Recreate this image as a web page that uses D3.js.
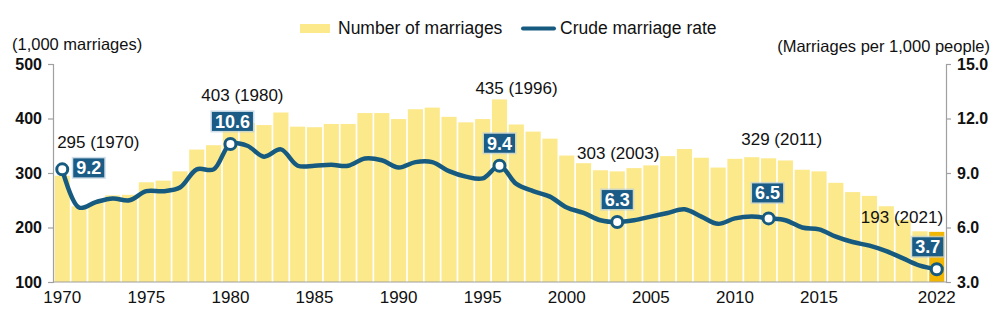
<!DOCTYPE html>
<html>
<head>
<meta charset="utf-8">
<script src="https://cdn.jsdelivr.net/npm/d3@7"></script>
<style>
  body { margin: 0; background: #fff; }
  svg { display: block; font-family: "Liberation Sans", Arial, sans-serif; }
</style>
</head>
<body>
<svg id="chart" width="997" height="323"></svg>
<script>
// ---------- DATA ----------
const years = [1970,1971,1972,1973,1974,1975,1976,1977,1978,1979,
  1980,1981,1982,1983,1984,1985,1986,1987,1988,1989,
  1990,1991,1992,1993,1994,1995,1996,1997,1998,1999,
  2000,2001,2002,2003,2004,2005,2006,2007,2008,2009,
  2010,2011,2012,2013,2014,2015,2016,2017,2018,2019,
  2020,2021,2022];
// Number of marriages (1,000)
const marriages = [295,239,245,259,260,283,286,303,343,351,
  403,392,388,411,385,384,390,390,410,410,
  399,417,420,403,393,399,435,389,376,363,
  332,318,305,303,309,314,331,344,328,310,
  326,329,327,323,306,303,282,265,258,239,
  214,193,192];
// Crude marriage rate (per 1,000 people)
const rates = [9.2,7.1,7.4,7.6,7.5,8.0,8.0,8.2,9.2,9.2,
  10.6,10.5,9.9,10.3,9.4,9.4,9.45,9.4,9.8,9.7,
  9.3,9.6,9.6,9.1,8.8,8.7,9.4,8.4,8.0,7.7,
  7.1,6.8,6.4,6.3,6.4,6.6,6.8,7.0,6.6,6.2,
  6.5,6.6,6.5,6.4,6.0,5.9,5.5,5.2,5.0,4.7,
  4.3,3.9,3.7];
const highlightYear = 2022;
const leftTicks = [100,200,300,400,500];
const rightTicks = [3.0,6.0,9.0,12.0,15.0];
const xTickYears = [1970,1975,1980,1985,1990,1995,2000,2005,2010,2015,2022];
const rateMarkerYears = [1970,1980,1996,2003,2012,2022];
const rateMarkerLabels = ["9.2","10.6","9.4","6.3","6.5","3.7"];
const barNoteYears = [1970,1980,1996,2003,2011,2021];
const barNoteTexts = ["295 (1970)","403 (1980)","435 (1996)","303 (2003)","329 (2011)","193 (2021)"];
const legendLabels = ["Number of marriages","Crude marriage rate"];
const leftTitle = "(1,000 marriages)";
const rightTitle = "(Marriages per 1,000 people)";

// ---------- LAYOUT ----------
const svg = d3.select("#chart");
const plotLeft = 53, plotRight = 946, plotTop = 64, plotBottom = 282;
const C = { bar: "#fce98c", barHi: "#f2b705", line: "#175a80", box: "#1b5c86", axis: "#a0a0a0", text: "#111" };

const x = d3.scaleBand().domain(years).range([plotLeft, plotRight]).padding(0.1);
const yL = d3.scaleLinear().domain([100, 500]).range([plotBottom, plotTop]);
const yR = d3.scaleLinear().domain([3, 15]).range([plotBottom, plotTop]);
const cx = yr => x(yr) + x.bandwidth() / 2;

// bars
svg.append("g").selectAll("rect").data(years).join("rect")
  .attr("x", d => x(d))
  .attr("width", x.bandwidth())
  .attr("y", (d, i) => yL(marriages[i]))
  .attr("height", (d, i) => yL(100) - yL(marriages[i]))
  .attr("fill", d => d === highlightYear ? C.barHi : C.bar);

// axes
const gL = svg.append("g").attr("transform", `translate(${plotLeft},0)`)
  .call(d3.axisLeft(yL).tickValues(leftTicks).tickSize(5).tickPadding(6).tickFormat(d3.format("d")));
const gR = svg.append("g").attr("transform", `translate(${plotRight},0)`)
  .call(d3.axisRight(yR).tickValues(rightTicks).tickSize(5).tickPadding(6).tickFormat(d3.format(".1f")));
[gL, gR].forEach(g => {
  g.select(".domain").attr("stroke", C.axis).attr("stroke-width", 1.2);
  g.selectAll(".tick line").attr("stroke", C.axis).attr("stroke-width", 1.2);
  g.selectAll(".tick text").attr("font-size", 16).attr("font-weight", "bold").attr("fill", C.text)
    .attr("font-family", "Liberation Sans, Arial, sans-serif");
});
const gB = svg.append("g").attr("transform", `translate(0,${plotBottom})`)
  .call(d3.axisBottom(x).tickValues(xTickYears).tickSize(0).tickPadding(9));
gB.select(".domain").attr("stroke", C.axis).attr("stroke-width", 1.2)
  .attr("d", `M${plotLeft},0H${plotRight}`);
gB.selectAll(".tick text").attr("font-size", 17).attr("fill", C.text)
  .attr("font-family", "Liberation Sans, Arial, sans-serif");

// line
const line = d3.line()
  .x((d, i) => cx(years[i]))
  .y(d => yR(d))
  .curve(d3.curveCatmullRom.alpha(0.5));
svg.append("path").datum(rates)
  .attr("d", line).attr("fill", "none")
  .attr("stroke", C.line).attr("stroke-width", 4.5)
  .attr("stroke-linejoin", "round").attr("stroke-linecap", "round");

// markers
rateMarkerYears.forEach(yr => {
  const i = years.indexOf(yr);
  svg.append("circle").attr("cx", cx(yr)).attr("cy", yR(rates[i])).attr("r", 5.5)
    .attr("fill", "#fff").attr("stroke", C.line).attr("stroke-width", 3);
});

// value boxes
const boxOffsets = [
  { mode: "right", dx: 11, dy: -1.5 },
  { mode: "above", dx: 2, dy: -13 },
  { mode: "above", dx: 0, dy: -13 },
  { mode: "above", dx: 0, dy: -13 },
  { mode: "above", dx: -1, dy: -16 },
  { mode: "above", dx: -9, dy: -13 }
];
rateMarkerYears.forEach((yr, k) => {
  const i = years.indexOf(yr);
  const px = cx(yr), py = yR(rates[i]);
  const o = boxOffsets[k];
  const g = svg.append("g");
  const t = g.append("text").text(rateMarkerLabels[k])
    .attr("font-size", 18).attr("font-weight", "bold").attr("fill", "#fff");
  const w = t.node().getComputedTextLength() + 6, h = 19;
  let bx, by;
  if (o.mode === "right") { bx = px + o.dx; by = py + o.dy - h / 2; }
  else { bx = px + o.dx - w / 2; by = py + o.dy - h; }
  g.insert("rect", "text").attr("x", bx - 1.5).attr("y", by - 1.5).attr("width", w + 3).attr("height", h + 3)
    .attr("fill", "#b9cfdf").attr("opacity", 0.7);
  g.insert("rect", "text").attr("x", bx).attr("y", by).attr("width", w).attr("height", h).attr("fill", C.box);
  t.attr("x", bx + w / 2).attr("y", by + h / 2 + 6.5).attr("text-anchor", "middle");
});

// bar annotations
const noteDx = [36, 12, 17, 1, 30, -18];
const noteDy = [null, -16, -5, -12, -12, -8];
barNoteYears.forEach((yr, k) => {
  const i = years.indexOf(yr);
  const top = yL(marriages[i]);
  const ty = k === 0 ? yR(rates[i]) - 21 : top + noteDy[k];
  svg.append("text").text(barNoteTexts[k])
    .attr("x", cx(yr) + noteDx[k]).attr("y", ty)
    .attr("text-anchor", "middle").attr("font-size", 17).attr("fill", C.text);
});

// titles
svg.append("text").text(leftTitle).attr("x", 12).attr("y", 50).attr("font-size", 16.5).attr("fill", C.text);
svg.append("text").text(rightTitle).attr("x", 990).attr("y", 52).attr("text-anchor", "end").attr("font-size", 16.5).attr("fill", C.text);

// legend
const lg = svg.append("g");
lg.append("rect").attr("x", 300).attr("y", 24).attr("width", 30).attr("height", 9).attr("fill", C.bar);
lg.append("text").text(legendLabels[0]).attr("x", 338).attr("y", 34).attr("font-size", 17.5).attr("fill", C.text);
lg.append("line").attr("x1", 523).attr("x2", 554).attr("y1", 28.5).attr("y2", 28.5)
  .attr("stroke", C.line).attr("stroke-width", 4).attr("stroke-linecap", "round");
lg.append("text").text(legendLabels[1]).attr("x", 560).attr("y", 34).attr("font-size", 17.5).attr("fill", C.text);
</script>
</body>
</html>
